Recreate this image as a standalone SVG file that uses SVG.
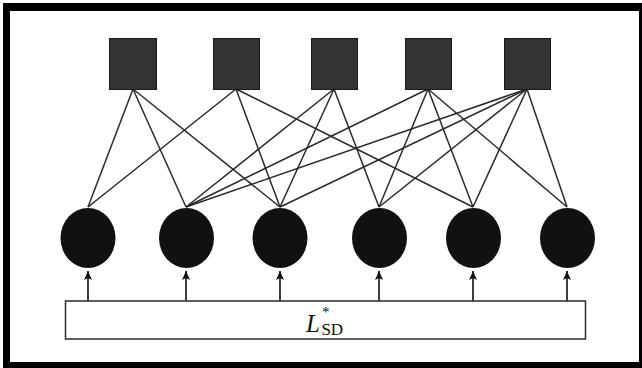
<svg xmlns="http://www.w3.org/2000/svg" width="642" height="368" viewBox="0 0 642 368">
<style>
.sq{fill:#333;stroke:#1a1a1a;stroke-width:1}
.ci{fill:#111}
.ed line{stroke:#2a2a2a;stroke-width:1.5}
.ar line{stroke:#2a2a2a;stroke-width:1.8}
.lbl{font-family:"Liberation Serif",serif;fill:#111}
</style>
<defs>
<marker id="ah" markerWidth="10" markerHeight="8" refX="9" refY="4" orient="auto" markerUnits="userSpaceOnUse" viewBox="0 0 10 8">
<path d="M0,0 L9,4 L0,8 L2,4 Z" fill="#111"/>
</marker>
</defs>
<rect x="0" y="0" width="642" height="368" fill="#fff"/>
<rect x="3" y="3" width="639" height="365" fill="#000"/>
<rect x="10" y="11" width="629" height="351" fill="#fff"/>
<g id="connectors">
<g class="ed">
<line x1="133" y1="89" x2="88" y2="207"/>
<line x1="133" y1="89" x2="186" y2="207"/>
<line x1="133" y1="89" x2="280" y2="207"/>
<line x1="236" y1="89" x2="88" y2="207"/>
<line x1="236" y1="89" x2="280" y2="207"/>
<line x1="236" y1="89" x2="473" y2="207"/>
<line x1="334" y1="89" x2="186" y2="207"/>
<line x1="334" y1="89" x2="280" y2="207"/>
<line x1="334" y1="89" x2="379" y2="207"/>
<line x1="428" y1="89" x2="186" y2="207"/>
<line x1="428" y1="89" x2="379" y2="207"/>
<line x1="428" y1="89" x2="473" y2="207"/>
<line x1="428" y1="89" x2="567" y2="207"/>
<line x1="527" y1="89" x2="186" y2="207"/>
<line x1="527" y1="89" x2="280" y2="207"/>
<line x1="527" y1="89" x2="379" y2="207"/>
<line x1="527" y1="89" x2="473" y2="207"/>
<line x1="527" y1="89" x2="567" y2="207"/>
</g>
<g class="ar">
<line x1="88" y1="301" x2="88" y2="271" marker-end="url(#ah)"/>
<line x1="186" y1="301" x2="186" y2="271" marker-end="url(#ah)"/>
<line x1="280" y1="301" x2="280" y2="271" marker-end="url(#ah)"/>
<line x1="379" y1="301" x2="379" y2="271" marker-end="url(#ah)"/>
<line x1="473" y1="301" x2="473" y2="271" marker-end="url(#ah)"/>
<line x1="567" y1="301" x2="567" y2="271" marker-end="url(#ah)"/>
</g>
</g>
<g id="s1"><rect class="sq" x="109.5" y="38.5" width="47" height="51"/></g>
<g id="s2"><rect class="sq" x="213.5" y="38.5" width="46" height="51"/></g>
<g id="s3"><rect class="sq" x="311.5" y="38.5" width="46" height="51"/></g>
<g id="s4"><rect class="sq" x="405.5" y="38.5" width="46" height="51"/></g>
<g id="s5"><rect class="sq" x="504.5" y="38.5" width="46" height="51"/></g>
<g id="c1"><ellipse class="ci" cx="88" cy="238" rx="27.5" ry="30"/></g>
<g id="c2"><ellipse class="ci" cx="186.5" cy="238" rx="27.5" ry="30"/></g>
<g id="c3"><ellipse class="ci" cx="280" cy="238" rx="27.5" ry="30"/></g>
<g id="c4"><ellipse class="ci" cx="379.5" cy="238" rx="27.5" ry="30"/></g>
<g id="c5"><ellipse class="ci" cx="473.5" cy="238" rx="27.5" ry="30"/></g>
<g id="c6"><ellipse class="ci" cx="567.5" cy="238" rx="27.5" ry="30"/></g>
<g id="lsd">
<rect x="65.5" y="301" width="520" height="38" fill="#fff" stroke="#2a2a2a" stroke-width="1.5"/>
<text class="lbl" x="306" y="332" font-size="25"><tspan font-style="italic" fill="#111">L</tspan><tspan dx="2" dy="-15" font-size="15" fill="#111">*</tspan><tspan dx="-8" dy="18" font-size="17" fill="#111">SD</tspan></text>
</g>
</svg>
